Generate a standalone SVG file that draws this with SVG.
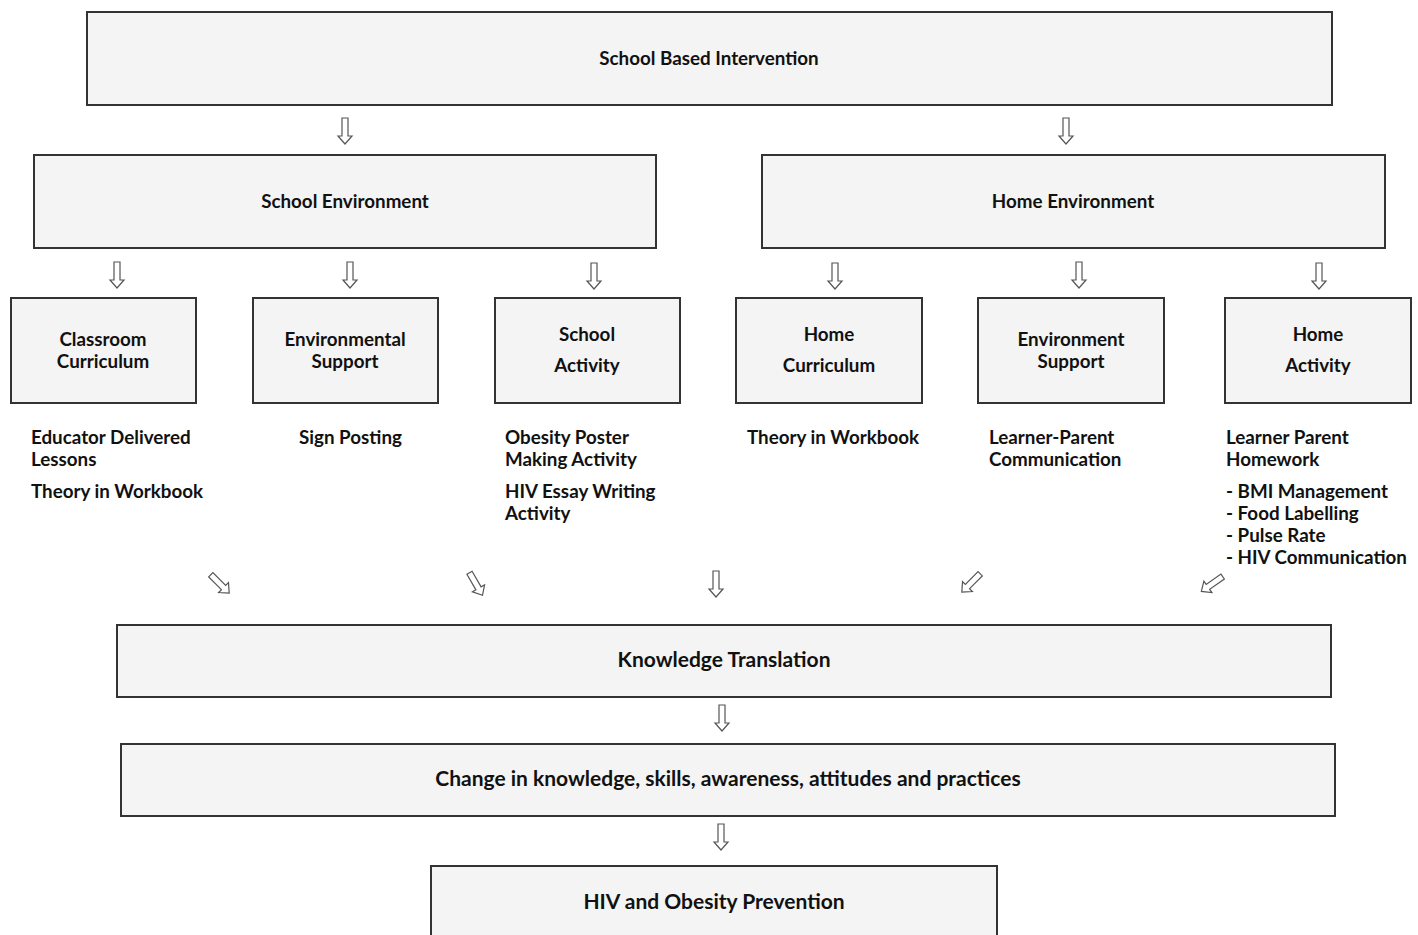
<svg xmlns="http://www.w3.org/2000/svg" width="1418" height="935" viewBox="0 0 1418 935">
<style>
.box{fill:#f4f4f4;stroke:#333;stroke-width:2}
text{font-family:Lato,"Open Sans","Liberation Sans",sans-serif;font-weight:bold;font-size:18.8px;fill:#111}
.c{text-anchor:middle}
.big{font-size:21px}
.arr{fill:#fff;stroke:#555;stroke-width:1.2}
</style>
<defs>
<path id="ar" d="M-3,-13 H3 V5 H7 L0,13 L-7,5 H-3 Z"/>
</defs>
<rect width="1418" height="935" fill="#fff"/>
<g id="n-top"><rect class="box" x="87" y="12" width="1245" height="93"/><text class="c" x="709" y="65">School Based Intervention</text></g>
<g id="n-school"><rect class="box" x="34" y="155" width="622" height="93"/><text class="c" x="345" y="208">School Environment</text></g>
<g id="n-home"><rect class="box" x="762" y="155" width="623" height="93"/><text class="c" x="1073" y="208">Home Environment</text></g>
<g id="n-cc"><rect class="box" x="11" y="298" width="185" height="105"/><text class="c" x="103" y="346">Classroom</text><text class="c" x="103" y="368">Curriculum</text></g>
<g id="n-es"><rect class="box" x="253" y="298" width="185" height="105"/><text class="c" x="345" y="346">Environmental</text><text class="c" x="345" y="368">Support</text></g>
<g id="n-sa"><rect class="box" x="495" y="298" width="185" height="105"/><text class="c" x="587" y="341">School</text><text class="c" x="587" y="372">Activity</text></g>
<g id="n-hc"><rect class="box" x="736" y="298" width="186" height="105"/><text class="c" x="829" y="341">Home</text><text class="c" x="829" y="372">Curriculum</text></g>
<g id="n-ens"><rect class="box" x="978" y="298" width="186" height="105"/><text class="c" x="1071" y="346">Environment</text><text class="c" x="1071" y="368">Support</text></g>
<g id="n-ha"><rect class="box" x="1225" y="298" width="186" height="105"/><text class="c" x="1318" y="341">Home</text><text class="c" x="1318" y="372">Activity</text></g>
<g id="labels">
<text x="31" y="444">Educator Delivered</text><text x="31" y="466">Lessons</text><text x="31" y="498">Theory in Workbook</text>
<text x="299" y="444">Sign Posting</text>
<text x="505" y="444">Obesity Poster</text><text x="505" y="466">Making Activity</text><text x="505" y="498">HIV Essay Writing</text><text x="505" y="520">Activity</text>
<text x="747" y="444">Theory in Workbook</text>
<text x="989" y="444">Learner-Parent</text><text x="989" y="466">Communication</text>
<text x="1226" y="444">Learner Parent</text><text x="1226" y="466">Homework</text><text x="1226" y="498">- BMI Management</text><text x="1226" y="520">- Food Labelling</text><text x="1226" y="542">- Pulse Rate</text><text x="1226" y="564">- HIV Communication</text>
</g>
<g id="n-kt"><rect class="box" x="117" y="625" width="1214" height="72"/><text class="c big" x="724" y="667">Knowledge Translation</text></g>
<g id="n-ch"><rect class="box" x="121" y="744" width="1214" height="72"/><text class="c big" x="728" y="786">Change in knowledge, skills, awareness, attitudes and practices</text></g>
<g id="n-prev"><rect class="box" x="431" y="866" width="566" height="80"/><text class="c big" x="714" y="909">HIV and Obesity Prevention</text></g>
<g id="connectors">
<use href="#ar" class="arr" transform="translate(345,131)"/>
<use href="#ar" class="arr" transform="translate(1066,131)"/>
<use href="#ar" class="arr" transform="translate(117,275)"/>
<use href="#ar" class="arr" transform="translate(350,275)"/>
<use href="#ar" class="arr" transform="translate(594,276)"/>
<use href="#ar" class="arr" transform="translate(835,276)"/>
<use href="#ar" class="arr" transform="translate(1079,275)"/>
<use href="#ar" class="arr" transform="translate(1319,276)"/>
<use href="#ar" class="arr" transform="translate(220,584) rotate(-45)"/>
<use href="#ar" class="arr" transform="translate(476,584) rotate(-30)"/>
<use href="#ar" class="arr" transform="translate(716,584)"/>
<use href="#ar" class="arr" transform="translate(971,583) rotate(45)"/>
<use href="#ar" class="arr" transform="translate(1212,584) rotate(55)"/>
<use href="#ar" class="arr" transform="translate(722,718)"/>
<use href="#ar" class="arr" transform="translate(721,837)"/>
</g>
</svg>
